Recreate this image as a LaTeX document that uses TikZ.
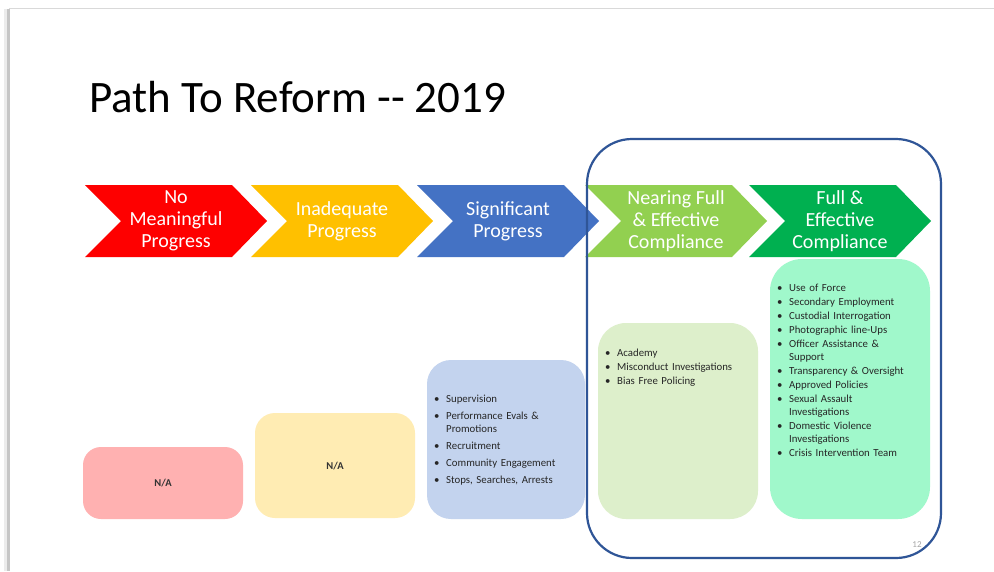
\documentclass[tikz,border=0pt]{standalone}
\usepackage{fontspec}
\setmainfont{Carlito}
\definecolor{cRed}{HTML}{FE0000}
\definecolor{cYel}{HTML}{FFC000}
\definecolor{cBlu}{HTML}{4472C4}
\definecolor{cLgr}{HTML}{92D050}
\definecolor{cGrn}{HTML}{00B050}
\definecolor{bRed}{HTML}{FFB1B1}
\definecolor{bYel}{HTML}{FFECB3}
\definecolor{bBlu}{HTML}{C3D3EE}
\definecolor{bLgr}{HTML}{DDEFCB}
\definecolor{bGrn}{HTML}{A0F8CB}
\definecolor{frame}{HTML}{2F5597}
\newcommand{\bitem}[1]{\par\hangindent=12pt\hangafter=1\noindent\makebox[12pt][l]{\textbullet}#1}
\tikzset{
  chev/.style={draw=none},
  chevtxt/.style={text=white, font=\fontsize{20}{22}\selectfont, align=center, inner sep=0pt},
  listtxt/.style={anchor=north west, inner sep=0pt, text width=#1, align=left, font=\fontsize{10.8}{13}\selectfont, text=black!85},
  natxt/.style={font=\fontsize{10.5}{12}\selectfont\bfseries, text=black!80, inner sep=0pt}
}
\begin{document}
\begin{tikzpicture}[x=1pt,y=-1pt]
\useasboundingbox (0,0) rectangle (994,571);
\fill[white] (0,0) rectangle (994,571);
% slide edge shadow
\draw[gray!30, line width=0.8pt] (9,8.5) -- (994,8.5);
\fill[gray!45] (6.5,9) rectangle (9.5,571);
\fill[gray!15] (4,9) rectangle (6.5,571);
% title
\node[anchor=base west, inner sep=0pt, font=\fontsize{45}{48}\selectfont, text=black] (title) at (89,112) {Path To Reform -{}- 2019};
% chevrons
\foreach \x/\c/\n in {85/cRed/c1, 251/cYel/c2, 417/cBlu/c3, 585/cLgr/c4, 749/cGrn/c5}{
  \fill[\c] (\x,185) -- (\x+147,185) -- (\x+182,221) -- (\x+147,257) -- (\x,257) -- (\x+36,221) -- cycle;
  \coordinate (\n) at (\x+91,221);
}
\node[chevtxt] (t1) at (c1) {No\\Meaningful\\Progress};
\node[chevtxt] (t2) at (c2) {Inadequate\\Progress};
\node[chevtxt] (t3) at (c3) {Significant\\Progress};
\node[chevtxt] (t4) at (c4) {Nearing Full\\\& Effective\\Compliance};
\node[chevtxt] (t5) at (c5) {Full \&\\Effective\\Compliance};
% bottom boxes
\fill[bRed, rounded corners=18pt] (83,447) rectangle (243,519);
\fill[bYel, rounded corners=20pt] (255,413) rectangle (415,518);
\fill[bBlu, rounded corners=24pt] (427,360) rectangle (585,519);
\fill[bLgr, rounded corners=28pt] (598,323) rectangle (758,519);
\fill[bGrn, rounded corners=32pt] (770,259) rectangle (930,519);
\node[natxt] (na1) at (163,483) {N/A};
\node[natxt] (na2) at (335,466) {N/A};
\node[listtxt=145pt] (l3) at (434,385.5) {\setlength{\parskip}{4pt}%
\bitem{Supervision}
\bitem{Performance Evals \&\newline Promotions}
\bitem{Recruitment}
\bitem{Community Engagement}
\bitem{Stops, Searches, Arrests}};
\node[listtxt=150pt] (l4) at (605,342.5) {\setlength{\parskip}{1pt}%
\bitem{Academy}
\bitem{Misconduct Investigations}
\bitem{Bias Free Policing}};
\node[listtxt=150pt] (l5) at (777,277.5) {\setlength{\parskip}{1pt}%
\bitem{Use of Force}
\bitem{Secondary Employment}
\bitem{Custodial Interrogation}
\bitem{Photographic line-Ups}
\bitem{Officer Assistance \&\newline Support}
\bitem{Transparency \& Oversight}
\bitem{Approved Policies}
\bitem{Sexual Assault\newline Investigations}
\bitem{Domestic Violence\newline Investigations}
\bitem{Crisis Intervention Team}};
% frame
\draw[frame, line width=2.2pt, rounded corners=45pt] (587,139) rectangle (941,558);
% page number
\node[font=\fontsize{9}{10}\selectfont, text=gray!70, inner sep=0pt] (pg) at (917,545) {12};
\end{tikzpicture}
\end{document}
